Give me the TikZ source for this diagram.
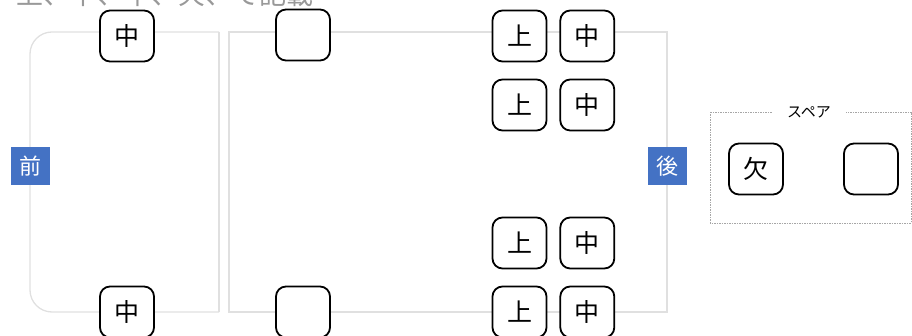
\documentclass[tikz,border=0pt]{standalone}
\usepackage{fontspec}
\newfontfamily\jpfont{Noto Sans CJK JP}
\usetikzlibrary{positioning}
\definecolor{sideblue}{RGB}{68,114,196}

\begin{document}
\begin{tikzpicture}[x=1pt, y=-1pt, every node/.style={font=\jpfont},
  tire/.style={draw, line width=1.8pt, rounded corners=10pt, fill=white,
    minimum width=54pt, minimum height=51pt, inner sep=0pt,
    font=\jpfont\fontsize{25}{25}\selectfont},
  side/.style={fill=sideblue, text=white, minimum width=39pt, minimum height=38pt,
    inner sep=0pt, font=\jpfont\fontsize{22}{22}\selectfont},
  body/.style={draw=black!12, line width=1.3pt}]
  \useasboundingbox (0,0) rectangle (912,336);
  % note at the top, cut by the page
  \node[text=black!40, font=\jpfont\fontsize{27}{27}\selectfont, anchor=base west, inner sep=0pt]
    (note) at (16,5) {上、下、中、欠、で記載};
  % cab and body
  \draw[body] (219,32) -- (219,312);
  \draw[body, rounded corners=22pt] (219,32) -- (30,32) -- (30,312) -- (219,312);
  \draw[body] (229,32) rectangle (667,312);
  % tyres
  \node[tire] (fl) at (127,36)  {中};
  \node[tire] (fr) at (127,312) {中};
  \node[tire] (ml) at (303,35)  {};
  \node[tire] (mr) at (303,312) {};
  \foreach \y/\n in {36/1, 105/2, 243/3, 312/4} {
    \node[tire] (up\n) at (519.5,\y) {上};
    \node[tire, right=12pt of up\n] (mid\n) {中};
  }
  % front and rear
  \node[side] (front) at (30,166)  {前};
  \node[side] (rear)  at (667,166) {後};
  % spare
  \draw[draw=black!35, dash pattern=on 1.5pt off 1pt, line width=0.6pt] (710,112) rectangle (911,223);
  \node[fill=white, inner xsep=15pt, inner ysep=2pt, font=\jpfont\fontsize{15}{15}\selectfont]
    (spare) at (809,112) {スペア};
  \node[tire] (sp1) at (756,169) {欠};
  \node[tire] (sp2) at (871,169) {};
\end{tikzpicture}
\end{document}
